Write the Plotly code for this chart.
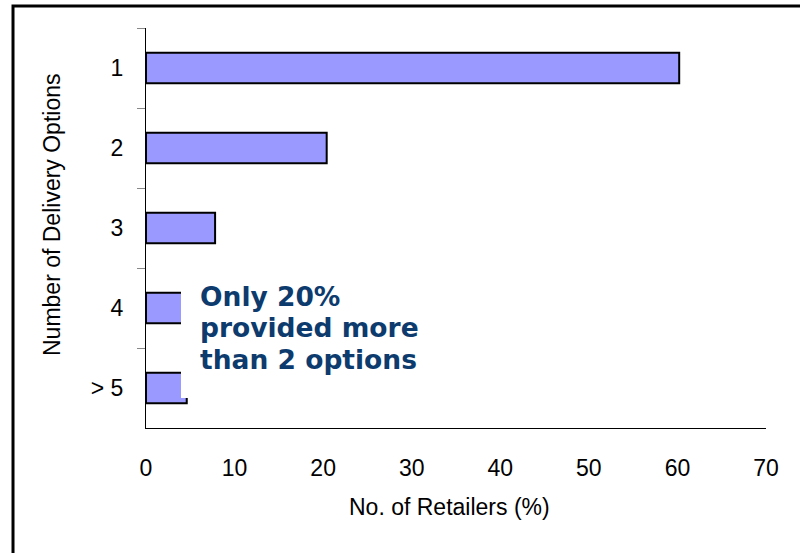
import plotly.graph_objects as go

# ---- data ----
categories = ["1", "2", "3", "4", "> 5"]
retailers_pct = [60.2, 20.4, 7.8, 7.0, 4.6]
x_tick_vals = [0, 10, 20, 30, 40, 50, 60, 70]
callout_lines = ["Only 20%", "provided more", "than 2 options"]
x_title = "No. of Retailers (%)"
y_title = "Number of Delivery Options"

AX_FONT = dict(family="Liberation Sans, Arial, sans-serif", size=23, color="black")

fig = go.Figure(
    go.Bar(
        x=retailers_pct,
        y=categories,
        orientation="h",
        width=0.38,
        marker=dict(color="#9999FF", line=dict(color="black", width=2)),
    )
)

fig.update_layout(
    width=800,
    height=553,
    margin=dict(l=146, r=34, t=28, b=125),
    paper_bgcolor="white",
    plot_bgcolor="white",
    showlegend=False,
    xaxis=dict(
        range=[0, 70],
        tickvals=x_tick_vals,
        showgrid=False,
        zeroline=False,
        showline=True,
        linecolor="black",
        linewidth=1,
        ticks="",
        tickfont=AX_FONT,
        ticklabelstandoff=19,
    ),
    yaxis=dict(
        categoryorder="array",
        categoryarray=categories,
        autorange="reversed",
        showgrid=False,
        zeroline=False,
        showline=True,
        linecolor="black",
        linewidth=1,
        ticks="outside",
        tickson="boundaries",
        ticklen=8,
        tickcolor="#888888",
        tickwidth=1,
        tickfont=AX_FONT,
        ticklabelstandoff=17,
    ),
)

# outer frame
fig.add_shape(type="rect", xref="paper", yref="paper",
              x0=-0.2145, x1=1.1, y0=-0.4, y1=1.055,
              line=dict(color="black", width=3), fillcolor="rgba(0,0,0,0)", layer="above")

# white callout box
fig.add_shape(type="rect", xref="x", yref="paper",
              x0=3.95, x1=33, y0=0.075, y1=0.37,
              line=dict(width=0), fillcolor="white", layer="above")

callout_y = [0.33, 0.2525, 0.172]
for txt, yy in zip(callout_lines, callout_y):
    fig.add_annotation(text=txt, xref="x", yref="paper", x=5.86, y=yy,
                       xanchor="left", yanchor="middle", showarrow=False,
                       font=dict(family="DejaVu Sans", size=26.5, color="#0d3b6e", weight=700))

fig.add_annotation(text=y_title, xref="paper", yref="paper", x=-0.1516, y=0.5325,
                   xanchor="center", yanchor="middle", textangle=-90, showarrow=False,
                   font=AX_FONT)
fig.add_annotation(text=x_title, xref="paper", yref="paper", x=0.49, y=-0.1975,
                   xanchor="center", yanchor="middle", showarrow=False,
                   font=AX_FONT)

fig.write_html("out.html", config={"displayModeBar": False},
               post_script="document.body.style.margin='0';")
